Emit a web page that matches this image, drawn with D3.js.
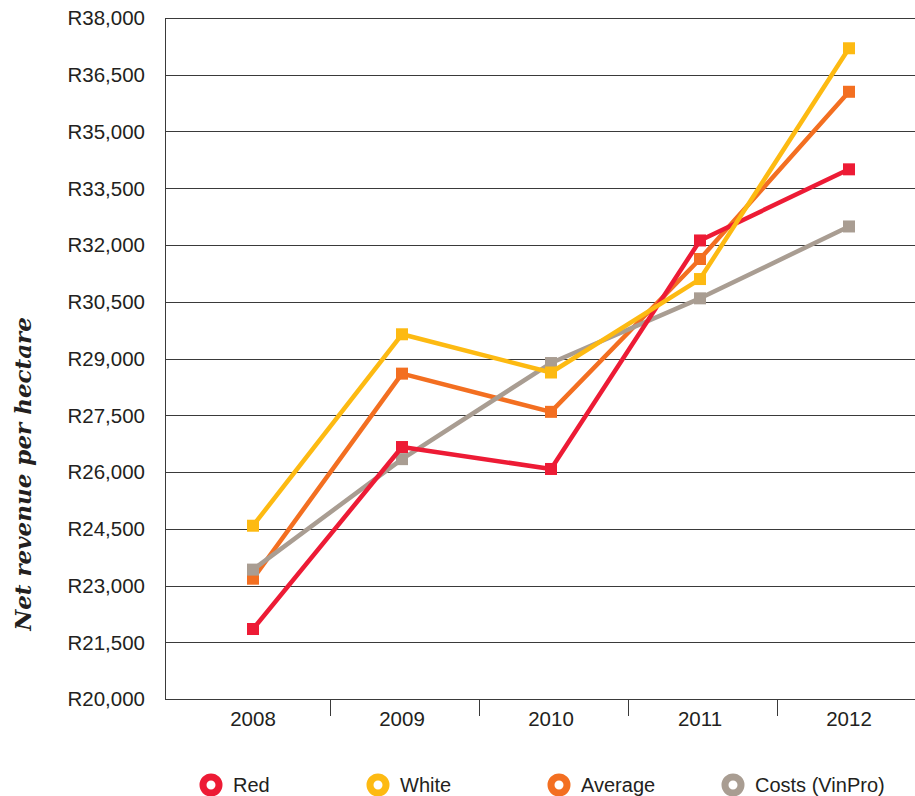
<!DOCTYPE html>
<html>
<head>
<meta charset="utf-8">
<script src="https://cdn.jsdelivr.net/npm/d3@7"></script>
<style>
  body { margin: 0; background: #fff; }
  text { font-family: "Liberation Sans", Arial, sans-serif; fill: #231f20; }
</style>
</head>
<body>
<svg id="chart" width="915" height="796"></svg>
<script>
// data
var years = ["2008", "2009", "2010", "2011", "2012"];
var red = [21850, 26660, 26080, 32120, 34000];
var white = [24580, 29640, 28630, 31100, 37200];
var average = [23180, 28600, 27590, 31630, 36050];
var costs = [23420, 26340, 28880, 30590, 32490];
var yTicks = [20000, 21500, 23000, 24500, 26000, 27500, 29000, 30500, 32000, 33500, 35000, 36500, 38000];

var seriesNames = ["Red", "White", "Average", "Costs (VinPro)"];
var seriesColors = ["#ed1b35", "#fdba12", "#f36f21", "#a99d92"];

var svg = d3.select("#chart");
var width = 915, height = 796;
var plot = {"left": 165, "top": 18, "right": 915, "bottom": 699};

var x = d3.scalePoint()
    .domain(years)
    .range([253, 849]);

var y = d3.scaleLinear()
    .domain([20000, 38000])
    .range([plot.bottom, plot.top]);

// gridlines
svg.append("g")
    .selectAll("line")
    .data(yTicks)
    .join("line")
    .attr("x1", plot.left)
    .attr("x2", plot.right)
    .attr("y1", d => Math.round(y(d)) + 0.5)
    .attr("y2", d => Math.round(y(d)) + 0.5)
    .attr("stroke", "#3a3a3a")
    .attr("stroke-width", 1);

// left axis line
svg.append("line")
    .attr("x1", plot.left + 0.5).attr("x2", plot.left + 0.5)
    .attr("y1", plot.top).attr("y2", plot.bottom)
    .attr("stroke", "#3a3a3a");

// y tick labels
svg.append("g")
    .selectAll("text")
    .data(yTicks)
    .join("text")
    .attr("x", 145)
    .attr("y", d => y(d))
    .attr("dy", "0.36em")
    .attr("text-anchor", "end")
    .style("font-size", "20.5px")
    .text(d => "R" + d3.format(",")(d));

// x axis ticks between categories
var step = x.step();
var between = years.slice(1).map(d => x(d) - step / 2 + 2);
svg.append("g")
    .selectAll("line")
    .data(between)
    .join("line")
    .attr("x1", d => Math.round(d) + 0.5)
    .attr("x2", d => Math.round(d) + 0.5)
    .attr("y1", plot.bottom)
    .attr("y2", plot.bottom + 17)
    .attr("stroke", "#3a3a3a");

svg.append("g")
    .selectAll("text")
    .data(years)
    .join("text")
    .attr("x", d => x(d))
    .attr("y", plot.bottom + 27)
    .attr("text-anchor", "middle")
    .style("font-size", "20.5px")
    .text(d => d);

// y axis title
svg.append("text")
    .attr("transform", "translate(31," + 474 + ") rotate(-90)")
    .attr("text-anchor", "middle")
    .style("font-family", "'DejaVu Serif', 'Liberation Serif', serif")
    .style("font-weight", "bold")
    .style("font-style", "italic")
    .style("font-size", "23px")
    .text("Net revenue per hectare");

// lines, drawn in the stacking order of the reference
var all = [red, white, average, costs];
var order = [2, 3, 0, 1];
var line = d3.line()
    .x((d, i) => x(years[i]))
    .y(d => y(d));

for (var k in order) {
    var s = order[k];
    var g = svg.append("g").attr("class", "series " + seriesNames[s]);
    g.append("path")
        .attr("d", line(all[s]))
        .attr("fill", "none")
        .attr("stroke", seriesColors[s])
        .attr("stroke-width", 4.5)
        .attr("stroke-linejoin", "round");
    g.selectAll("rect")
        .data(all[s])
        .join("rect")
        .attr("x", (d, i) => x(years[i]) - 6)
        .attr("y", d => y(d) - 6)
        .attr("width", 12)
        .attr("height", 12)
        .attr("fill", seriesColors[s]);
}

// legend
var legendX = [211, 378, 559, 733];
var legend = svg.append("g").attr("id", "legend");
for (var i in seriesNames) {
    var lg = legend.append("g");
    lg.append("circle")
        .attr("cx", legendX[i])
        .attr("cy", 785)
        .attr("r", 8)
        .attr("fill", "#fff")
        .attr("stroke", seriesColors[i])
        .attr("stroke-width", 7);
    lg.append("text")
        .attr("x", legendX[i] + 22)
        .attr("y", 785)
        .attr("dy", "0.36em")
        .style("font-size", "20px")
        .text(seriesNames[i]);
}
</script>
</body>
</html>
